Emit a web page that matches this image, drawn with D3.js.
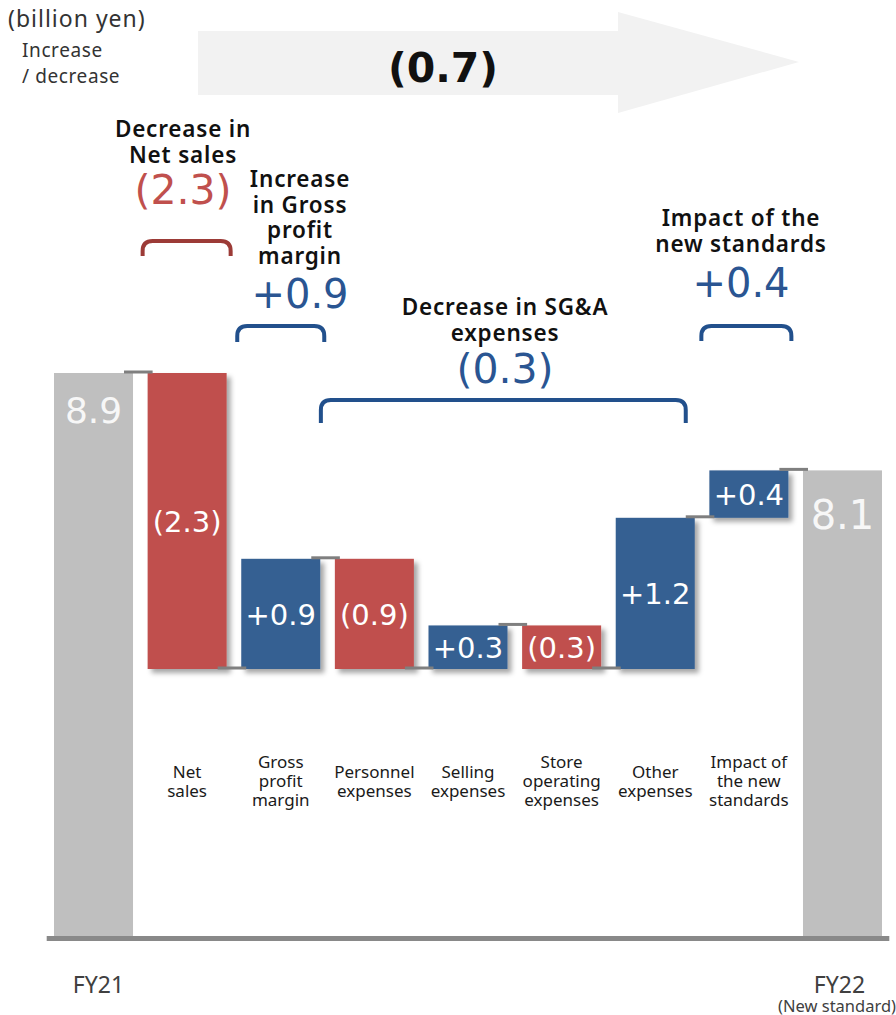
<!DOCTYPE html>
<html>
<head>
<meta charset="utf-8">
<script src="https://cdn.jsdelivr.net/npm/d3@7"></script>
<style>
  body { margin: 0; background: #fff; }
  svg { display: block; }
</style>
</head>
<body>
<div id="chart"></div>
<script>
// ---- data ----
const categories = ["FY21", "Net sales", "Gross profit margin", "Personnel expenses", "Selling expenses",
  "Store operating expenses", "Other expenses", "Impact of the new standards", "FY22"];
const startValue = 8.9;
const deltas = [-2.31, 0.86, -0.86, 0.34, -0.34, 1.18, 0.37];
const endValue = 8.14;
const barLabels = ["8.9", "(2.3)", "+0.9", "(0.9)", "+0.3", "(0.3)", "+1.2", "+0.4", "8.1"];
const catLines = [[], ["Net", "sales"], ["Gross", "profit", "margin"], ["Personnel", "expenses"],
  ["Selling", "expenses"], ["Store", "operating", "expenses"], ["Other", "expenses"],
  ["Impact of", "the new", "standards"], []];
const totalChange = "(0.7)";
const annoTitles = [["Decrease in", "Net sales"], ["Increase", "in Gross", "profit", "margin"],
  ["Decrease in SG&A", "expenses"], ["Impact of the", "new standards"]];
const annoValues = ["(2.3)", "+0.9", "(0.3)", "+0.4"];
const annoSpans = [["Net sales", "Net sales"], ["Gross profit margin", "Gross profit margin"],
  ["Personnel expenses", "Other expenses"], ["Impact of the new standards", "Impact of the new standards"]];
const annoEffect = ["neg", "pos", "pos", "pos"];

const W = 896, H = 1015;
const red = "#c0504d", blue = "#366092", grey = "#bfbfbf";

const svg = d3.select("#chart").append("svg")
  .attr("width", W).attr("height", H);

const defs = svg.append("defs");
defs.append("filter").attr("id", "shadow")
  .attr("x", "-20%").attr("y", "-20%").attr("width", "150%").attr("height", "150%")
  .append("feDropShadow")
  .attr("dx", 4).attr("dy", 4).attr("stdDeviation", 2.5)
  .attr("flood-color", "#000").attr("flood-opacity", 0.35);

// waterfall rows
let level = startValue;
const rows = [{ cat: categories[0], from: null, to: startValue, total: true }];
deltas.forEach((d, i) => {
  rows.push({ cat: categories[i + 1], from: level, to: level + d, total: false, d });
  level += d;
});
rows.push({ cat: categories[categories.length - 1], from: null, to: endValue, total: true });
rows.forEach((r, i) => r.label = barLabels[i]);

const levels = rows.flatMap(r => r.total ? [r.to] : [r.from, r.to]);

const x = d3.scaleBand()
  .domain(categories)
  .range([46.7, 889.3])
  .paddingInner(0.156)
  .paddingOuter(0.078);

const y = d3.scaleLinear()
  .domain(d3.extent(levels))
  .range([669, 373]);

const baseY = 936;
const bw = x.bandwidth();

// header: big grey arrow
svg.append("path")
  .attr("d", "M198,31 L618,31 L618,12 L799,62 L618,113 L618,95 L198,95 Z")
  .attr("fill", "#f2f2f2");
svg.append("text")
  .attr("x", 443).attr("y", 82)
  .attr("text-anchor", "middle")
  .style("font-family", "'DejaVu Sans', sans-serif")
  .style("font-weight", "bold")
  .style("font-size", "41px")
  .attr("fill", "#111")
  .text(totalChange);

svg.append("text").attr("x", 8).attr("y", 27)
  .style("font-family", "'Noto Sans', sans-serif").style("font-size", "23px")
  .style("letter-spacing", "1px").attr("fill", "#333")
  .text("(billion yen)");
svg.append("text").attr("x", 22).attr("y", 57)
  .style("font-family", "'Noto Sans', sans-serif").style("font-size", "19px")
  .style("letter-spacing", "0.6px").attr("fill", "#333")
  .text("Increase");
svg.append("text").attr("x", 22).attr("y", 83)
  .style("font-family", "'Noto Sans', sans-serif").style("font-size", "19px")
  .style("letter-spacing", "0.6px").attr("fill", "#333")
  .text("/ decrease");

// bars
const bars = svg.append("g");
bars.selectAll("rect")
  .data(rows)
  .enter()
  .append("rect")
  .attr("x", d => x(d.cat))
  .attr("width", bw)
  .attr("y", d => d.total ? y(d.to) : y(Math.max(d.from, d.to)))
  .attr("height", d => d.total ? baseY - y(d.to) : Math.abs(y(d.from) - y(d.to)))
  .attr("fill", d => d.total ? grey : (d.d < 0 ? red : blue))
  .attr("filter", d => d.total ? null : "url(#shadow)");

// connectors
const conn = [];
rows.forEach((r, i) => {
  if (i === rows.length - 1) return;
  const next = rows[i + 1];
  const v = next.total ? next.to : next.from;
  conn.push({ a: r.cat, b: next.cat, v });
});
svg.append("g").selectAll("line")
  .data(conn)
  .enter()
  .append("line")
  .attr("x1", d => x(d.a) + bw - 9)
  .attr("x2", d => x(d.b) + 5)
  .attr("y1", d => y(d.v) - 1)
  .attr("y2", d => y(d.v) - 1)
  .attr("stroke", "#7f7f7f")
  .attr("stroke-width", 3);

// bar labels
svg.append("g").selectAll("text")
  .data(rows)
  .enter()
  .append("text")
  .attr("x", d => x(d.cat) + bw / 2)
  .attr("y", (d, i) => d.total ? y(d.to) + (i === 0 ? 50 : 59) : (y(d.from) + y(d.to)) / 2 + 11)
  .attr("text-anchor", "middle")
  .style("font-family", "'DejaVu Sans', sans-serif")
  .style("font-size", (d, i) => d.total ? (i === 0 ? "36px" : "40px") : "29px")
  .attr("fill", d => d.total ? "#f7f7f7" : "#fff")
  .text(d => d.label);

// axis line
svg.append("rect")
  .attr("x", x.range()[0]).attr("width", x.range()[1] - x.range()[0])
  .attr("y", baseY).attr("height", 5)
  .attr("fill", "#898989");

// category labels
const catG = svg.append("g")
  .style("font-family", "'Noto Sans', sans-serif")
  .style("font-size", "17px")
  .attr("fill", "#1a1a1a");
categories.forEach((c, i) => {
  const lines = catLines[i];
  if (!lines.length) return;
  const cx = x(c) + bw / 2;
  const top = 787 - (lines.length - 1) * 19 / 2;
  lines.forEach((ln, k) => {
    catG.append("text")
      .attr("x", cx)
      .attr("y", top + k * 19)
      .attr("text-anchor", "middle")
      .text(ln);
  });
});

// period labels under the axis
const firstCat = categories[0], lastCat = categories[categories.length - 1];
svg.append("text")
  .attr("x", x(firstCat) + bw / 2 + 5).attr("y", 993)
  .attr("text-anchor", "middle")
  .style("font-family", "'Noto Sans', sans-serif").style("font-size", "23px")
  .attr("fill", "#404040")
  .text(firstCat);
svg.append("text")
  .attr("x", x(lastCat) + bw / 2 - 3).attr("y", 993)
  .attr("text-anchor", "middle")
  .style("font-family", "'Noto Sans', sans-serif").style("font-size", "23px")
  .attr("fill", "#404040")
  .text(lastCat);
svg.append("text")
  .attr("x", 778).attr("y", 1012)
  .style("font-family", "'Noto Sans', sans-serif").style("font-size", "16.5px")
  .attr("fill", "#404040")
  .text("(New standard)");

// annotations with brackets
const annoLayout = [
  { cx: 183, titleY: 137, valueY: 204, size: 41, brTop: 241, brBot: 256, pad: [-5, 4] },
  { cx: 300, titleY: 187, valueY: 308, size: 40, brTop: 326, brBot: 342, pad: [-4, 4] },
  { cx: 505, titleY: 315, valueY: 383, size: 41, brTop: 400, brBot: 423, pad: [-14, -9] },
  { cx: 741, titleY: 226, valueY: 297, size: 40, brTop: 326, brBot: 341, pad: [-8, 3] }
];
const numColor = { neg: "#c0504d", pos: "#2a5592" };
const brColor = { neg: "#9c3b37", pos: "#22508c" };

annoTitles.forEach((lines, i) => {
  const L = annoLayout[i];
  const g = svg.append("g");
  lines.forEach((ln, k) => {
    g.append("text")
      .attr("x", L.cx).attr("y", L.titleY + k * 25.5)
      .attr("text-anchor", "middle")
      .style("font-family", "'Noto Sans', sans-serif")
      .style("font-weight", "600")
      .style("font-size", "22.5px")
      .style("letter-spacing", "0.8px")
      .attr("fill", "#111")
      .text(ln);
  });
  g.append("text")
    .attr("x", L.cx).attr("y", L.valueY)
    .attr("text-anchor", "middle")
    .style("font-family", "'DejaVu Sans', sans-serif")
    .style("font-size", L.size + "px")
    .attr("fill", numColor[annoEffect[i]])
    .text(annoValues[i]);

  const x0 = x(annoSpans[i][0]) + L.pad[0];
  const x1 = x(annoSpans[i][1]) + bw + L.pad[1];
  const r = 10;
  g.append("path")
    .attr("d", `M${x0},${L.brBot} L${x0},${L.brTop + r} Q${x0},${L.brTop} ${x0 + r},${L.brTop}
      L${x1 - r},${L.brTop} Q${x1},${L.brTop} ${x1},${L.brTop + r} L${x1},${L.brBot}`)
    .attr("fill", "none")
    .attr("stroke", brColor[annoEffect[i]])
    .attr("stroke-width", 4);
});
</script>
</body>
</html>
